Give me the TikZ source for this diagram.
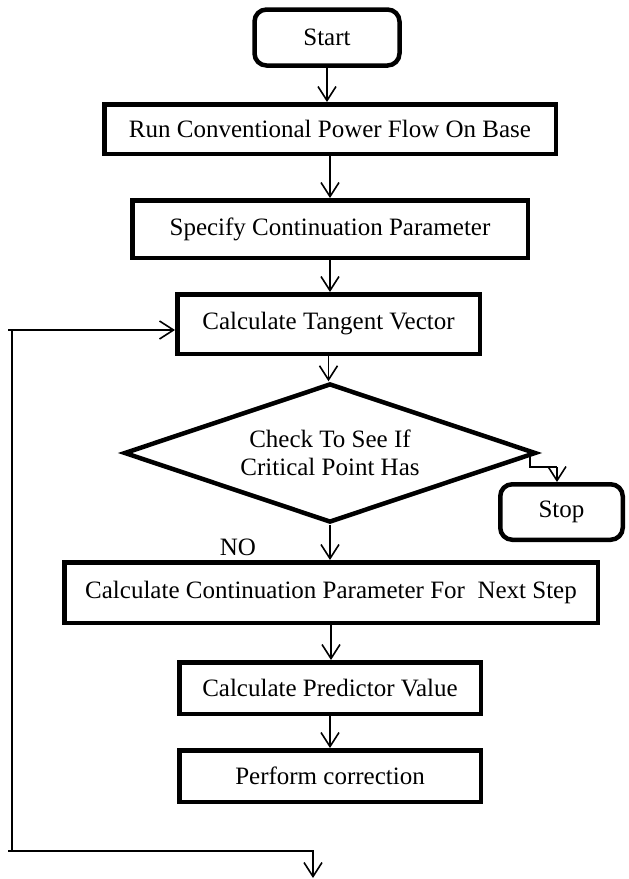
\documentclass[tikz,border=0pt]{standalone}
\usepackage{fontspec}
\setmainfont{Liberation Serif}
\usetikzlibrary{arrows.meta,shapes.geometric,calc}
\begin{document}
\begin{tikzpicture}[x=1pt,y=-1pt,
  every node/.style={font=\fontsize{25}{28}\selectfont},
  box/.style={draw, line width=4.5pt, inner sep=0pt, align=center},
  term/.style={box, rounded corners=12pt},
  ln/.style={line width=1.6pt},
  arr/.style={line width=1.6pt, -{Straight Barb[length=14pt,width=18pt,line width=1.6pt]}}]
\useasboundingbox (0,0) rectangle (629,879);
\node[term, minimum width=145pt, minimum height=56pt] (start) at (327,37.5) {Start};
\node[box, minimum width=451.5pt, minimum height=49.5pt] (b2) at (330,129) {Run Conventional Power Flow On Base};
\node[box, minimum width=395.5pt, minimum height=57.5pt] (b3) at (330,229) {Specify Continuation Parameter};
\node[box, minimum width=302.5pt, minimum height=59.5pt] (b4) at (328.5,324) {Calculate Tangent Vector};
\node[diamond, aspect=2.96, draw, line width=4.5pt, inner sep=0pt, align=center, minimum width=412pt, minimum height=139pt, font=\fontsize{25}{28}\selectfont] (d) at (330,453) {Check To See If\\Critical Point Has};
\node[term, minimum width=122.5pt, minimum height=55.5pt] (stop) at (561.5,512) {Stop};
\node[box, minimum width=533.5pt, minimum height=60.5pt] (b6) at (331,592.5) {Calculate Continuation Parameter For\ \ Next Step};
\node[box, minimum width=301.5pt, minimum height=51.5pt] (b7) at (330,688) {Calculate Predictor Value};
\node[box, minimum width=301.5pt, minimum height=51.5pt] (b8) at (330,776) {Perform correction};
\node (no) at (238,547) {NO};
% main flow
\draw[arr] (start.south) -- (start.south |- b2.north);
\draw[arr] (b2.south) -- (b2.south |- b3.north);
\draw[arr] (b3.south) -- (b3.south |- b4.north);
\draw[arr] (b4.south) -- (b4.south |- d.north);
\draw[arr] (d.south) -- (d.south |- b6.north);
\draw[arr] (b6.south) -- (b6.south |- b7.north);
\draw[arr] (b7.south) -- (b7.south |- b8.north);
% stop branch
\coordinate (sk) at (557,467);
\draw[ln] ($(d.east)+(-8,0)$) |- (sk);
\draw[arr] (sk) -- (sk |- stop.north);
% loop back
\coordinate (lt) at (8,330);
\coordinate (lv1) at (12,330);
\coordinate (lv2) at (12,851);
\coordinate (lb) at (8,851);
\coordinate (le) at (313,878);
\draw[arr] (lt) -- (lt -| b4.west);
\draw[ln] (lv1) -- (lv2);
\draw[arr] (lb) -| (le);
\end{tikzpicture}
\end{document}
